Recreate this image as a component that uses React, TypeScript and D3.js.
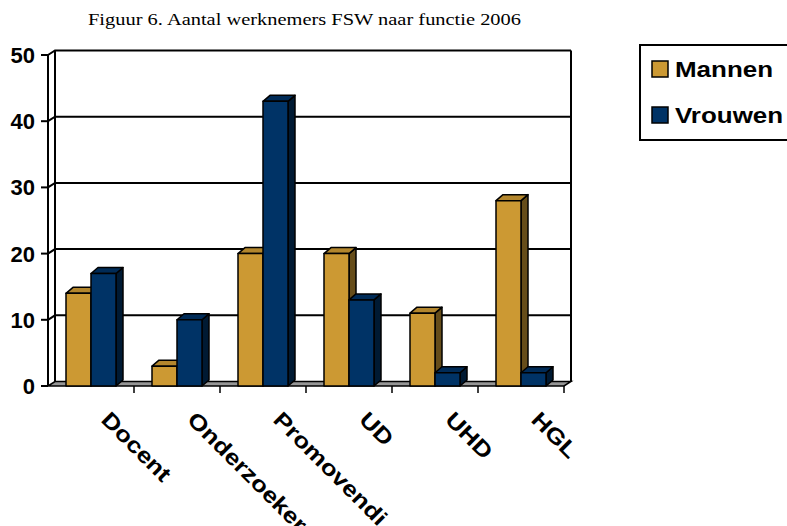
import React from 'react';
import * as d3 from 'd3';

const categories = ['Docent', 'Onderzoeker', 'Promovendi', 'UD', 'UHD', 'HGL'];
const seriesNames = ['Mannen', 'Vrouwen'];
const mannen = [14, 3, 20, 20, 11, 28];
const vrouwen = [17, 10, 43, 13, 2, 2];
const yTicks = [0, 10, 20, 30, 40, 50];
const title = 'Figuur 6. Aantal werknemers FSW naar functie 2006';

const colors: Record<string, { front: string; top: string; side: string }> = {
  Mannen: { front: '#CC9933', top: '#B3862D', side: '#664D1A' },
  Vrouwen: { front: '#003366', top: '#002B57', side: '#001A33' },
};

const W = 787;
const H = 526;
// plot frame (front plane) and the 3D wall offset
const left = 48, right = 564, top = 55, bottom = 386;
const wdx = 7, wdy = -4.5;
const bdx = 7, bdy = -6;
const labelFont = '"Liberation Sans", Arial, sans-serif';

const App: React.FC = () => {
  const x0 = d3.scaleBand<string>().domain(categories).range([left, right]);
  const x1 = d3.scaleBand<string>().domain(seriesNames).range([18, 68]);
  const y = d3.scaleLinear().domain([0, 50]).range([bottom, top]);

  const values: Record<string, number[]> = { Mannen: mannen, Vrouwen: vrouwen };

  const bar = (cat: string, s: string, v: number, key: string) => {
    const x = (x0(cat) ?? 0) + (x1(s) ?? 0);
    const w = x1.bandwidth();
    const yv = y(v);
    const yb = y(0);
    const c = colors[s];
    const frontPath = `M${x},${yv}H${x + w}V${yb}H${x}Z`;
    const topPath = `M${x},${yv}L${x + bdx},${yv + bdy}H${x + w + bdx}L${x + w},${yv}Z`;
    const sidePath = `M${x + w},${yv}L${x + w + bdx},${yv + bdy}V${yb + bdy}L${x + w},${yb}Z`;
    return (
      <g key={key} stroke="#000" strokeWidth={1.5} strokeLinejoin="round">
        <path d={sidePath} fill={c.side} />
        <path d={topPath} fill={c.top} />
        <path d={frontPath} fill={c.front} />
      </g>
    );
  };

  const backLeft = left + wdx;
  const backRight = right + wdx;

  return (
    <div style={{ position: 'fixed', left: 0, top: 0 }}>
      <svg width={W} height={H} style={{ display: 'block', background: '#fff' }}>
        <text
          x={88}
          y={25}
          fontFamily='"Liberation Serif", "Times New Roman", serif'
          fontSize={17}
          textLength={433}
          lengthAdjust="spacingAndGlyphs"
          fill="#000"
        >
          {title}
        </text>

        {/* floor */}
        <path
          d={`M${left},${y(0)}L${backLeft},${y(0) + wdy}H${backRight}L${right},${y(0)}Z`}
          fill="#969696"
          stroke="#000"
          strokeWidth={1.5}
        />

        {/* gridlines on side wall and back wall */}
        {yTicks.filter((t) => t > 0).map((t) => (
          <path
            key={`g${t}`}
            d={`M${left},${y(t)}L${backLeft},${y(t) + wdy}H${backRight}`}
            fill="none"
            stroke="#000"
            strokeWidth={2}
          />
        ))}
        <line x1={backLeft} x2={backLeft} y1={y(50) + wdy} y2={y(0) + wdy} stroke="#000" strokeWidth={2} />
        <line x1={backRight} x2={backRight} y1={y(50) + wdy} y2={y(0) + wdy} stroke="#000" strokeWidth={2} />
        <line x1={left} x2={left} y1={y(50)} y2={y(0)} stroke="#000" strokeWidth={2} />

        {/* y ticks and labels */}
        {yTicks.map((t) => (
          <g key={`t${t}`}>
            <line x1={41} x2={left} y1={y(t)} y2={y(t)} stroke="#000" strokeWidth={2} />
            <text
              x={35}
              y={y(t) + 8}
              textAnchor="end"
              fontFamily={labelFont}
              fontWeight="bold"
              fontSize={22}
              fill="#000"
            >
              {t}
            </text>
          </g>
        ))}

        {/* x ticks */}
        {categories.map((c) => {
          const xe = (x0(c) ?? 0) + x0.bandwidth();
          return <line key={`xt${c}`} x1={xe} x2={xe} y1={bottom} y2={393} stroke="#000" strokeWidth={1.5} />;
        })}

        {/* bars */}
        {categories.map((c, i) => (
          <g key={`grp${c}`}>
            {seriesNames.map((s) => bar(c, s, values[s][i], `${c}-${s}`))}
          </g>
        ))}

        {/* x labels */}
        {categories.map((c) => {
          const cx = (x0(c) ?? 0) + x0.bandwidth() / 2 + 9;
          return (
            <text
              key={`xl${c}`}
              transform={`translate(${cx},421) rotate(45) scale(1.18,1)`}
              fontFamily={labelFont}
              fontWeight="bold"
              fontSize={22}
              fill="#000"
            >
              {c}
            </text>
          );
        })}

        {/* legend */}
        <rect x={640} y={45} width={170} height={95} fill="#fff" stroke="#000" strokeWidth={2} />
        {seriesNames.map((s, i) => (
          <g key={`lg${s}`}>
            <rect x={652} y={61 + i * 46} width={16} height={16} fill={colors[s].front} stroke="#000" strokeWidth={1.5} />
            <text
              transform={`translate(675,${77 + i * 46}) scale(1.18,1)`}
              fontFamily={labelFont}
              fontWeight="bold"
              fontSize={22}
              fill="#000"
            >
              {s}
            </text>
          </g>
        ))}
      </svg>
    </div>
  );
};

export default App;
